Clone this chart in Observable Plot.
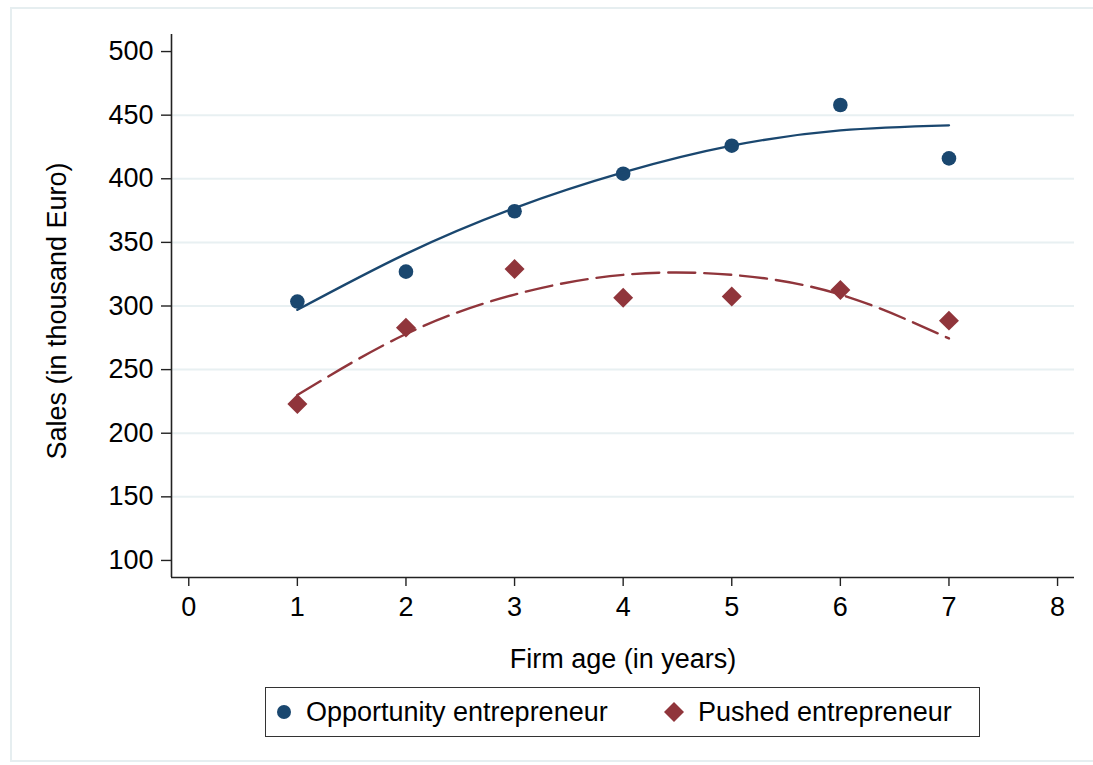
<!DOCTYPE html>
<html>
<head>
<meta charset="utf-8">
<script src="https://cdn.jsdelivr.net/npm/d3@7"></script>
<script src="https://cdn.jsdelivr.net/npm/@observablehq/plot@0.6"></script>
<style>
html, body { margin: 0; padding: 0; background: #fff; }
#wrap { position: relative; width: 1093px; height: 765px; overflow: hidden;
  font-family: "Liberation Sans", Arial, Helvetica, sans-serif; }
#frame { position: absolute; left: 10px; top: 7px; width: 1100px; height: 755px;
  border: 2px solid #e6eef0; box-sizing: border-box; }
#chart { position: absolute; left: 0; top: 0; }
#legend { position: absolute; left: 265px; top: 687px; width: 715px; height: 50px;
  border: 1.5px solid #333; box-sizing: border-box; background: #fff; }
.lg-mark { position: absolute; top: 0; height: 100%; display: flex; align-items: center; }
.lg-text { position: absolute; top: 0; height: 100%; display: flex; align-items: center;
  font-size: 27px; color: #000; white-space: nowrap; }
</style>
</head>
<body>
<div id="wrap">
  <div id="frame"></div>
  <div id="chart"></div>
  <div id="legend"></div>
</div>
<script>
// ---- data ----
const ages = [1, 2, 3, 4, 5, 6, 7];
const opportunity = [303.5, 327, 374.5, 404, 426, 458, 416];
const pushed = [223, 283, 329, 306.5, 307.5, 312.5, 288.5];
// fitted (quadratic) curves at each age
const opportunityFit = [297, 341, 377, 405, 426, 438, 442];
const pushedFit = [230, 278, 309, 324.5, 324.5, 309, 274.5];

const seriesNames = ["Opportunity entrepreneur", "Pushed entrepreneur"];
const xTicks = [0, 1, 2, 3, 4, 5, 6, 7, 8];
const yTicks = [100, 150, 200, 250, 300, 350, 400, 450, 500];
const gridTicks = [150, 200, 250, 300, 350, 400, 450];
const xDomain = [-0.159, 8.156];
const yDomain = [86.6, 513.4];
const xTitle = ["Firm age (in years)"];
const yTitle = ["Sales (in thousand Euro)"];

const navy = "#1a476f";
const maroon = "#90353b";
const font = "'Liberation Sans', Arial, Helvetica, sans-serif";

const oppData = ages.map((a, i) => ({age: a, v: opportunity[i]}));
const pushData = ages.map((a, i) => ({age: a, v: pushed[i]}));
const oppFitData = ages.map((a, i) => ({age: a, v: opportunityFit[i]}));
const pushFitData = ages.map((a, i) => ({age: a, v: pushedFit[i]}));

const chart = Plot.plot({
  width: 1093,
  height: 680,
  marginLeft: 171,
  marginRight: 19,
  marginTop: 34,
  marginBottom: 103,
  style: {fontFamily: font, fontSize: "27px", background: "transparent", color: "#000"},
  x: {domain: xDomain},
  y: {domain: yDomain},
  marks: [
    Plot.gridY(gridTicks, {stroke: "#e8f0f2", strokeOpacity: 1, strokeWidth: 2}),
    Plot.ruleX([xDomain[0]], {stroke: "#222", strokeWidth: 1.6}),
    Plot.ruleY([yDomain[0]], {stroke: "#222", strokeWidth: 1.6}),
    Plot.axisY({ticks: yTicks, tickSize: 10, tickPadding: 8, label: null,
      tickFormat: d => String(d), stroke: "#222", strokeWidth: 1.4, fontSize: 27}),
    Plot.axisX({ticks: xTicks, tickSize: 9, tickPadding: 10, label: null,
      tickFormat: d => String(d), stroke: "#222", strokeWidth: 1.4, fontSize: 27}),
    Plot.dot(oppData, {x: "age", y: "v", r: 7.3, fill: navy, stroke: "none"}),
    Plot.dot(pushData, {x: "age", y: "v", r: 9, symbol: "diamond2", fill: maroon, stroke: "none"}),
    Plot.line(oppFitData, {x: "age", y: "v", curve: "natural", stroke: navy, strokeWidth: 2.4}),
    Plot.line(pushFitData, {x: "age", y: "v", curve: "natural", stroke: maroon, strokeWidth: 2.4,
      strokeDasharray: "27,9"}),
    Plot.text(xTitle, {frameAnchor: "bottom", text: d => d, lineAnchor: "bottom",
      textAnchor: "middle", dy: 90, fontSize: 27, fill: "#000"}),
    Plot.text(yTitle, {frameAnchor: "left", text: d => d, rotate: -90, lineAnchor: "bottom",
      textAnchor: "middle", dx: -106, dy: 5, fontSize: 27, fill: "#000"})
  ]
});
document.getElementById("chart").appendChild(chart);

// ---- legend ----
const legend = document.getElementById("legend");
const legendItems = [
  {name: seriesNames[0], color: navy, shape: "circle", markX: 18, textX: 40},
  {name: seriesNames[1], color: maroon, shape: "diamond", markX: 408, textX: 432}
];
for (const it of legendItems) {
  const m = document.createElement("div");
  m.className = "lg-mark";
  m.style.left = (it.markX - 11) + "px";
  const svg = d3.create("svg").attr("width", 22).attr("height", 22);
  if (it.shape === "circle") {
    svg.append("circle").attr("cx", 11).attr("cy", 11).attr("r", 7).attr("fill", it.color);
  } else {
    svg.append("path").attr("d", "M11,1L21,11L11,21L1,11Z").attr("fill", it.color);
  }
  m.appendChild(svg.node());
  legend.appendChild(m);
  const t = document.createElement("div");
  t.className = "lg-text";
  t.style.left = it.textX + "px";
  t.textContent = it.name;
  legend.appendChild(t);
}
</script>
</body>
</html>
